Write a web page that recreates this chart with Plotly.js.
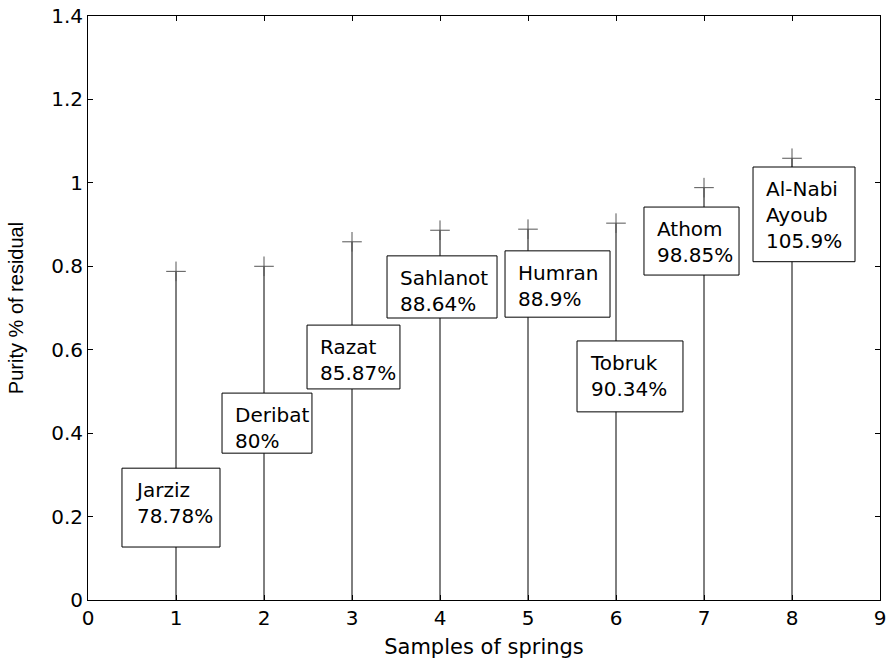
<!DOCTYPE html>
<html>
<head>
<meta charset="utf-8">
<script src="https://cdn.plot.ly/plotly-3.0.1.min.js"></script>
<style>html,body{margin:0;padding:0;background:#fff;}#chart{width:888px;height:660px;}</style>
</head>
<body>
<div id="chart"></div>
<script>
// Data
const samples = [1, 2, 3, 4, 5, 6, 7, 8];
const springs = ["Jarziz", "Deribat", "Razat", "Sahlanot", "Humran", "Tobruk", "Athom", "Al-Nabi<br>Ayoub"];
const purityLabels = ["78.78%", "80%", "85.87%", "88.64%", "88.9%", "90.34%", "98.85%", "105.9%"];
const purity = [0.7878, 0.80, 0.8587, 0.8864, 0.889, 0.9034, 0.9885, 1.059];

// Label box placement (data coords: left, top, right, bottom)
const boxLeft   = [0.386, 1.523, 2.489, 3.398, 4.739, 5.557, 6.318, 7.557];
const boxTop    = [0.316, 0.496, 0.659, 0.825, 0.837, 0.621, 0.942, 1.038];
const boxRight  = [1.500, 2.545, 3.545, 4.648, 5.932, 6.761, 7.398, 8.716];
const boxBottom = [0.127, 0.352, 0.506, 0.676, 0.678, 0.451, 0.779, 0.811];

// stems
const stemX = [], stemY = [];
samples.forEach((s, i) => { stemX.push(s, s, null); stemY.push(0, purity[i], null); });

const traces = [
  {x: stemX, y: stemY, mode: 'lines', line: {color: '#000', width: 1}, hoverinfo: 'skip', showlegend: false},
  {x: samples, y: purity, mode: 'markers', showlegend: false,
   marker: {symbol: 'cross-thin', size: 14, color: '#555', line: {color: '#555', width: 1}}}
];

const shapes = samples.map((s, i) => ({
  type: 'rect', xref: 'x', yref: 'y', layer: 'above',
  x0: boxLeft[i], x1: boxRight[i], y0: boxBottom[i], y1: boxTop[i],
  fillcolor: '#fff', line: {color: '#000', width: 1}
}));

const annotations = samples.map((s, i) => ({
  xref: 'x', yref: 'y', x: boxLeft[i], y: boxTop[i],
  xanchor: 'left', yanchor: 'top', xshift: 12, yshift: -9,
  align: 'left', showarrow: false, borderpad: 0,
  text: springs[i] + '<br>' + purityLabels[i],
  font: {family: 'DejaVu Sans', size: 20, color: '#000'}
}));

const axisCommon = {
  showgrid: false, zeroline: false, showline: true, linecolor: '#000', linewidth: 1,
  mirror: 'ticks', ticks: 'inside', ticklen: 5, tickcolor: '#000', tickwidth: 1,
  tickfont: {family: 'DejaVu Sans', size: 20, color: '#000'}
};

const layout = {
  width: 888, height: 660,
  margin: {l: 88, r: 8, t: 16, b: 60},
  paper_bgcolor: '#fff', plot_bgcolor: '#fff',
  showlegend: false,
  xaxis: Object.assign({}, axisCommon, {
    range: [0, 9], tickmode: 'linear', tick0: 0, dtick: 1,
    title: {text: 'Samples of springs', standoff: 10, font: {family: 'DejaVu Sans', size: 21, color: '#000'}}
  }),
  yaxis: Object.assign({}, axisCommon, {
    range: [0, 1.4], tickmode: 'linear', tick0: 0, dtick: 0.2,
    title: {text: 'Purity % of residual', standoff: 22, font: {family: 'Liberation Sans', size: 20, color: '#000'}}
  }),
  shapes: shapes,
  annotations: annotations
};

Plotly.newPlot('chart', traces, layout, {displayModeBar: false, staticPlot: true});
</script>
</body>
</html>
